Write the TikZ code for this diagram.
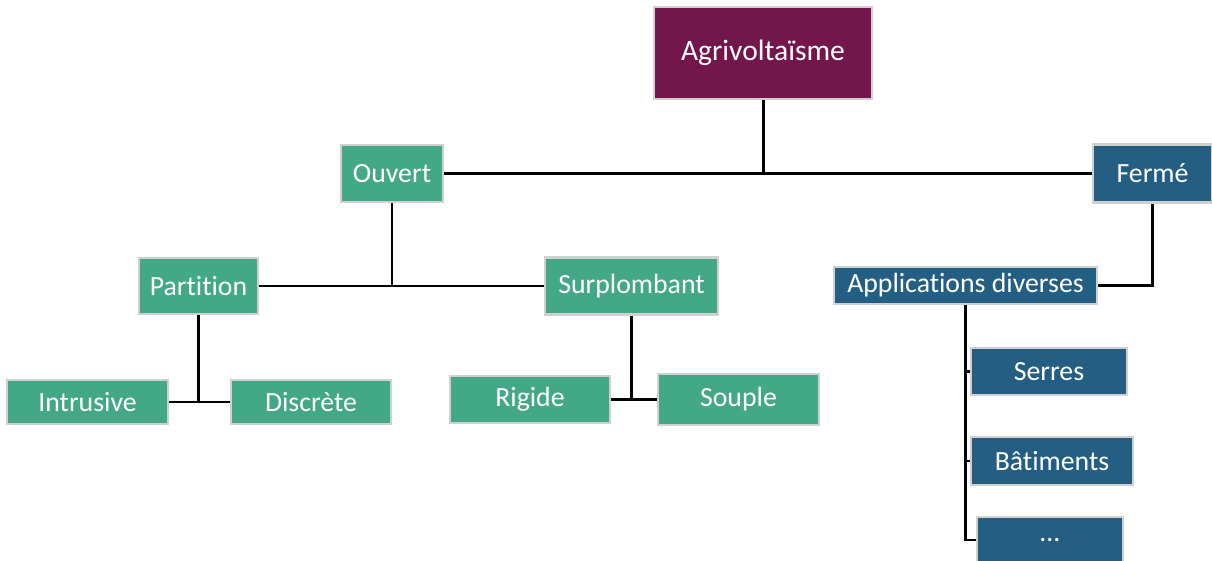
\documentclass[tikz,border=0pt]{standalone}
\usepackage{fontspec}
\setmainfont{Carlito}[RawFeature=-liga]
\usetikzlibrary{calc}

\definecolor{agripurple}{RGB}{114,22,75}
\definecolor{opengreen}{RGB}{67,168,134}
\definecolor{closedblue}{RGB}{36,94,130}
\definecolor{boxedge}{RGB}{208,208,208}

\begin{document}
\begin{tikzpicture}[x=0.01cm, y=-0.01cm, line width=1pt,
	box/.style={draw=boxedge, line width=0.7pt, text=white, inner sep=0pt,
		font=\fontsize{7.9}{9}\selectfont},
	greenbox/.style={box, fill=opengreen},
	bluebox/.style={box, fill=closedblue},
	link/.style={black, line width=0.85pt}]

\useasboundingbox (0,0) rectangle (1212,561);

\node[box, fill=agripurple, minimum width=2.18cm, minimum height=0.92cm,
	font=\fontsize{8.4}{10}\selectfont] (agri) at (763,53) {Agrivoltaïsme};

\node[greenbox, minimum width=1.02cm, minimum height=0.57cm] (ouvert) at (392,173.5) {Ouvert};
\node[bluebox, minimum width=1.19cm, minimum height=0.58cm] (ferme) at (1152.5,173.5) {Fermé};

\node[greenbox, minimum width=1.19cm, minimum height=0.56cm] (partition) at (198.5,286) {Partition};
\node[greenbox, minimum width=1.73cm, minimum height=0.57cm] (surplomb) at (631.5,286) {Surplombant};
\node[bluebox, minimum width=2.63cm, minimum height=0.37cm] (appli) at (965.5,285.5) {Applications diverses};

\node[greenbox, minimum width=1.61cm, minimum height=0.44cm] (intrusive) at (87.5,402) {Intrusive};
\node[greenbox, minimum width=1.60cm, minimum height=0.44cm] (discrete) at (311,402) {Discrète};
\node[greenbox, minimum width=1.60cm, minimum height=0.47cm] (rigide) at (530,399.5) {Rigide};
\node[greenbox, minimum width=1.61cm, minimum height=0.51cm] (souple) at (738.5,399.5) {Souple};

\node[bluebox, minimum width=1.56cm, minimum height=0.47cm] (serres) at (1049,371.5) {Serres};
\node[bluebox, minimum width=1.62cm, minimum height=0.48cm] (batiments) at (1052,461) {Bâtiments};
\node[bluebox, minimum width=1.46cm, minimum height=0.46cm] (dots) at (1050,540) {...};

% level 1
\draw[link] (agri.south) -- (agri.south |- ouvert.east);
\draw[link] (ouvert.east) -- (ferme.west);

% open side
\draw[link] (ouvert.south) -- (ouvert.south |- partition.east);
\draw[link] (partition.east) -- (surplomb.west);
\draw[link] (partition.south) -- (partition.south |- intrusive.east);
\draw[link] (intrusive.east) -- (discrete.west);
\draw[link] (surplomb.south) -- (surplomb.south |- rigide.east);
\draw[link] (rigide.east) -- (souple.west);

% closed side
\draw[link] (ferme.south) |- (appli.east);
\draw[link] (appli.south) |- (dots.west);
\draw[link] (appli.south |- serres.west) -- (serres.west);
\draw[link] (appli.south |- batiments.west) -- (batiments.west);

\end{tikzpicture}
\end{document}
